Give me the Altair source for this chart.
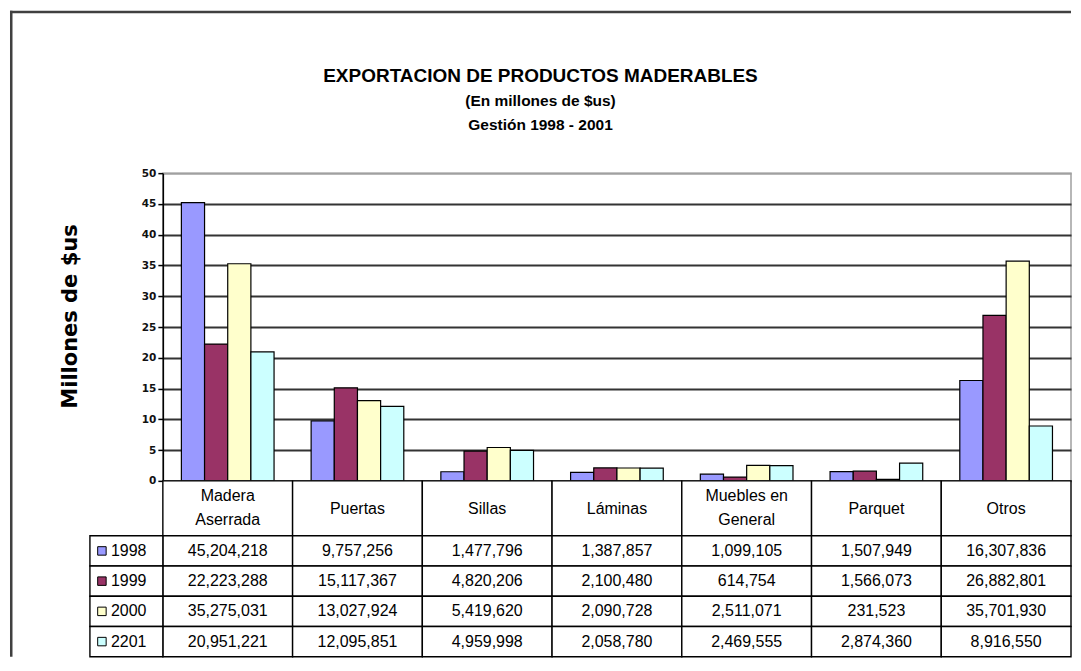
import altair as alt
import pandas as pd

categories = ["Madera Aserrada", "Puertas", "Sillas", "Láminas",
              "Muebles en General", "Parquet", "Otros"]
header_labels = [["Madera", "Aserrada"], ["Puertas"], ["Sillas"], ["Láminas"],
                 ["Muebles en", "General"], ["Parquet"], ["Otros"]]
years = ["1998", "1999", "2000", "2201"]
colors = ["#9999FF", "#993366", "#FFFFCC", "#CCFFFF"]

v1998 = [45204218, 9757256, 1477796, 1387857, 1099105, 1507949, 16307836]
v1999 = [22223288, 15117367, 4820206, 2100480, 614754, 1566073, 26882801]
v2000 = [35275031, 13027924, 5419620, 2090728, 2511071, 231523, 35701930]
v2201 = [20951221, 12095851, 4959998, 2058780, 2469555, 2874360, 8916550]

title_lines = ["EXPORTACION DE PRODUCTOS MADERABLES", "(En millones de $us)",
               "Gestión 1998 - 2001"]
y_title = "Millones de $us"
y_ticks = [0, 5, 10, 15, 20, 25, 30, 35, 40, 45, 50]

rows = []
for yr, vals in zip(years, [v1998, v1999, v2000, v2201]):
    for c, v in zip(categories, vals):
        rows.append({"cat": c, "year": yr, "value": v})
df = pd.DataFrame(rows)
hdr = pd.DataFrame({"cat": categories, "label": header_labels,
                    "nlines": [len(h) for h in header_labels]})
one = pd.DataFrame({"k": [0]})

W = 909
H = 308
FONT = "Liberation Sans"

color_scale = alt.Scale(domain=years, range=colors)
x_band = alt.Scale(domain=categories, paddingInner=0, paddingOuter=0)

bars = alt.Chart(df).transform_calculate(m="datum.value / 1000000").mark_bar(
    stroke="black", strokeWidth=1.2
).encode(
    x=alt.X("cat:N", sort=categories, scale=x_band, axis=None),
    xOffset=alt.XOffset("year:N", sort=years,
                        scale=alt.Scale(paddingInner=0, paddingOuter=0.8)),
    y=alt.Y("m:Q", scale=alt.Scale(domain=[0, 50], nice=False),
            axis=alt.Axis(values=y_ticks, title=y_title,
                          titleFont="DejaVu Sans", titleFontSize=21,
                          titleFontWeight="bold", titleColor="black",
                          titleX=-92, titleY=143, titleAngle=270,
                          titleAlign="center", titleBaseline="middle",
                          labelFont="DejaVu Sans", labelFontSize=10.5,
                          labelFontWeight="bold", labelColor="#111111",
                          labelPadding=2, tickSize=5, tickColor="black",
                          tickWidth=1.5, domainColor="black", domainWidth=1.5,
                          grid=True,
                          gridColor=alt.condition("datum.value == 50",
                                                  alt.value("#a0a0a0"),
                                                  alt.value("#333333")),
                          gridWidth=2)),
    color=alt.Color("year:N", scale=color_scale, legend=None),
)

title_sizes = [19, 15.5, 15.5]
title_y = [-97, -72, -48]
title_marks = [
    alt.Chart(one).mark_text(
        text=t, font=FONT, fontSize=s, fontWeight="bold",
        align="center", baseline="middle", color="black"
    ).encode(x=alt.value(378), y=alt.value(yy))
    for t, s, yy in zip(title_lines, title_sizes, title_y)
]

frame_left = alt.Chart(one).mark_rule(color="#404040", strokeWidth=2.5).encode(
    x=alt.value(-151.75), y=alt.value(-162.5), y2=alt.value(484))
frame_top = alt.Chart(one).mark_rule(color="#404040", strokeWidth=2.5).encode(
    x=alt.value(-153), x2=alt.value(W), y=alt.value(-161.25))

top = alt.layer(bars, *title_marks, frame_left, frame_top).properties(
    width=W, height=H,
    view=alt.ViewBackground(stroke="#a0a0a0", strokeWidth=1.5))

# header row of the data table
hdr_rect = alt.Chart(hdr).mark_rect(fill="white", stroke="black", strokeWidth=1.4).encode(
    x=alt.X("cat:N", sort=categories, scale=x_band, axis=None))
hdr_text1 = alt.Chart(hdr).transform_filter("datum.nlines == 1").mark_text(
    font=FONT, fontSize=16, baseline="middle", align="center", color="black"
).encode(
    x=alt.X("cat:N", sort=categories, scale=x_band, axis=None),
    y=alt.value(28),
    text="label",
)
hdr_text2 = alt.Chart(hdr).transform_filter("datum.nlines == 2").mark_text(
    font=FONT, fontSize=16, lineHeight=24, baseline="middle", align="center",
    color="black"
).encode(
    x=alt.X("cat:N", sort=categories, scale=x_band, axis=None),
    y=alt.value(15.5),
    text="label",
)
header = alt.layer(hdr_rect, hdr_text1, hdr_text2).properties(width=W, height=55)

# value rows of the data table
y_band = alt.Scale(domain=years, paddingInner=0, paddingOuter=0)
cell = alt.Chart(df).mark_rect(fill="white", stroke="black", strokeWidth=1.4).encode(
    x=alt.X("cat:N", sort=categories, scale=x_band, axis=None),
    y=alt.Y("year:N", sort=years, scale=y_band, axis=None))
cell_text = alt.Chart(df).mark_text(
    font=FONT, fontSize=16, baseline="middle", align="center", color="black"
).encode(
    x=alt.X("cat:N", sort=categories, scale=x_band, axis=None),
    y=alt.Y("year:N", sort=years, scale=y_band, axis=None),
    text=alt.Text("value:Q", format=","))
leg_df = pd.DataFrame({"year": years})
leg_cell = alt.Chart(leg_df).mark_rect(fill="white", stroke="black", strokeWidth=1.4).encode(
    x=alt.value(-73), x2=alt.value(0),
    y=alt.Y("year:N", sort=years, scale=y_band, axis=None))
leg_sq = alt.Chart(leg_df).mark_square(size=72, opacity=1, stroke="black",
                                        strokeWidth=1).encode(
    x=alt.value(-61),
    y=alt.Y("year:N", sort=years, scale=y_band, axis=None),
    color=alt.Color("year:N", scale=color_scale, legend=None))
leg_text = alt.Chart(leg_df).mark_text(
    font=FONT, fontSize=16, baseline="middle", align="left", color="black"
).encode(
    x=alt.value(-52),
    y=alt.Y("year:N", sort=years, scale=y_band, axis=None),
    text="year:N")
table = alt.layer(cell, cell_text, leg_cell, leg_sq, leg_text).properties(
    width=W, height=121)

chart = alt.vconcat(top, header, table, spacing=0, bounds="flush").resolve_scale(
    x="independent", y="independent"
).properties(
    padding={"left": 0, "top": 0, "right": 0, "bottom": 0},
    background="white",
).configure_view(stroke="transparent")

chart.save("out.html", embed_options={"renderer": "svg", "actions": False})
